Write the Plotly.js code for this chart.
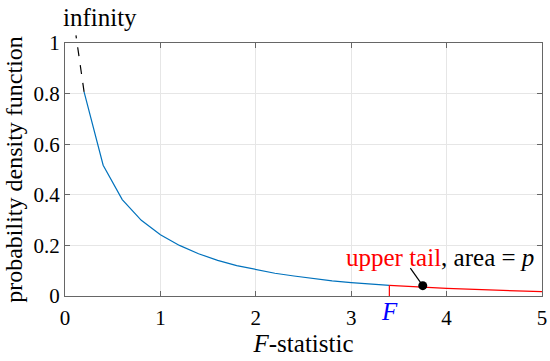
<!DOCTYPE html>
<html>
<head>
<meta charset="utf-8">
<script src="https://cdn.plot.ly/plotly-3.0.1.min.js"></script>
<style>
  html, body { margin: 0; padding: 0; background: #fff; overflow: hidden; }
  #chart { width: 550px; height: 361px; }
  /* white-on-white sample so the serif face is in use before plotting */
  #fontWarm { position: absolute; left: 536px; top: 336px; color: #fff;
              font-family: 'Liberation Serif'; font-size: 12px; line-height: 12px; }
</style>
</head>
<body>
<div id="chart"></div>
<div id="fontWarm" aria-hidden="true">. <i>.</i></div>
<script>
// curve values (step 0.2)
const fValues = [0.2, 0.4, 0.6, 0.8, 1.0, 1.2, 1.4, 1.6, 1.8, 2.0, 2.2, 2.4, 2.6,
                 2.8, 3.0, 3.2, 3.4, 3.6, 3.8, 4.0, 4.2, 4.4, 4.6, 4.8, 5.0];
const pdfValues = [0.807, 0.517, 0.381, 0.299, 0.242, 0.200, 0.167, 0.141, 0.120,
                   0.104, 0.090, 0.079, 0.069, 0.060, 0.053, 0.047, 0.042, 0.037,
                   0.034, 0.030, 0.027, 0.024, 0.021, 0.019, 0.017];

// critical value and observed statistic
const fCrit = 3.4;
const fObs = 3.75;
const pdfObs = 0.041;

// dashed "to infinity" segment and pointer line
const infX = [0.2, 0.115];
const infY = [0.807, 1.03];
const pointerX = [3.62, fObs];
const pointerY = [0.11, pdfObs];

const xTicks = [0, 1, 2, 3, 4, 5];
const yTicks = [0, 0.2, 0.4, 0.6, 0.8, 1];

const serif = 'Liberation Serif';

// split curve at the critical value
const blueX = [], blueY = [], redX = [], redY = [];
fValues.forEach((x, i) => {
    if (x <= fCrit) { blueX.push(x); blueY.push(pdfValues[i]); }
    if (x >= fCrit) { redX.push(x); redY.push(pdfValues[i]); }
});
const pdfAtCrit = pdfValues[fValues.indexOf(fCrit)];

const traces = [
    { x: blueX, y: blueY, mode: 'lines', line: { color: '#0072BD', width: 1.2 }, hoverinfo: 'skip' },
    { x: redX, y: redY, mode: 'lines', line: { color: '#FF0000', width: 1.2 }, hoverinfo: 'skip' },
    { x: [fCrit, fCrit], y: [0, pdfAtCrit], mode: 'lines', line: { color: '#FF0000', width: 1.2 }, hoverinfo: 'skip' },
    { x: pointerX, y: pointerY, mode: 'lines', line: { color: '#000', width: 1.2 }, hoverinfo: 'skip' },
    { x: [fObs], y: [pdfObs], mode: 'markers', marker: { color: '#000', size: 9 }, cliponaxis: false, hoverinfo: 'skip' }
];

const axisStyle = {
    showline: true, linecolor: '#666', linewidth: 1,
    mirror: 'ticks', ticks: 'inside', ticklen: 5, tickcolor: '#666',
    showgrid: true, gridcolor: '#e6e6e6', gridwidth: 1,
    zeroline: false
};

const layout = {
    width: 550, height: 361,
    margin: { l: 65, r: 8, t: 43, b: 65 },
    paper_bgcolor: '#fff', plot_bgcolor: '#fff',
    showlegend: false,
    font: { family: serif, color: '#000' },
    xaxis: Object.assign({}, axisStyle, {
        range: [0, 5], tickvals: xTicks, ticklabelstandoff: 3,
        tickfont: { family: serif, size: 21, color: '#000' },
        title: { text: '<i>F</i>-statistic', font: { family: serif, size: 25, color: '#000' }, standoff: 1 }
    }),
    yaxis: Object.assign({}, axisStyle, {
        range: [0, 1], tickvals: yTicks,
        tickfont: { family: serif, size: 21, color: '#000' },
        title: { text: 'probability density function', font: { family: serif, size: 24, color: '#000' }, standoff: 4 }
    }),
    shapes: [
        { type: 'line', xref: 'x', yref: 'paper', x0: infX[0], y0: infY[0], x1: infX[1], y1: infY[1],
          line: { color: '#000', width: 1.2, dash: 'dash' } }
    ],
    annotations: [
        { text: 'infinity', xref: 'x', yref: 'paper', x: 0.37, y: 1.10, yanchor: 'middle', showarrow: false,
          font: { family: serif, size: 25, color: '#000' } },
        { text: '<span style="color:#FF0000">upper tail</span>, area = <i>p</i>', xref: 'x', yref: 'y',
          x: 3.93, y: 0.154, yanchor: 'middle', showarrow: false, font: { family: serif, size: 25, color: '#000' } },
        { text: '<i>F</i>', xref: 'x', yref: 'paper', x: fCrit, y: 0, yanchor: 'top', yshift: 0,
          showarrow: false, font: { family: serif, size: 25, color: '#0000FF' } }
    ]
};

// wait for fonts and a couple of frames, then plot
const fontsReady = document.fonts ? document.fonts.ready.catch(() => null) : Promise.resolve();

fontsReady.then(() => {
    requestAnimationFrame(() => requestAnimationFrame(() => {
        Plotly.newPlot('chart', traces, layout, { displayModeBar: false, staticPlot: true });
    }));
});
</script>
</body>
</html>
